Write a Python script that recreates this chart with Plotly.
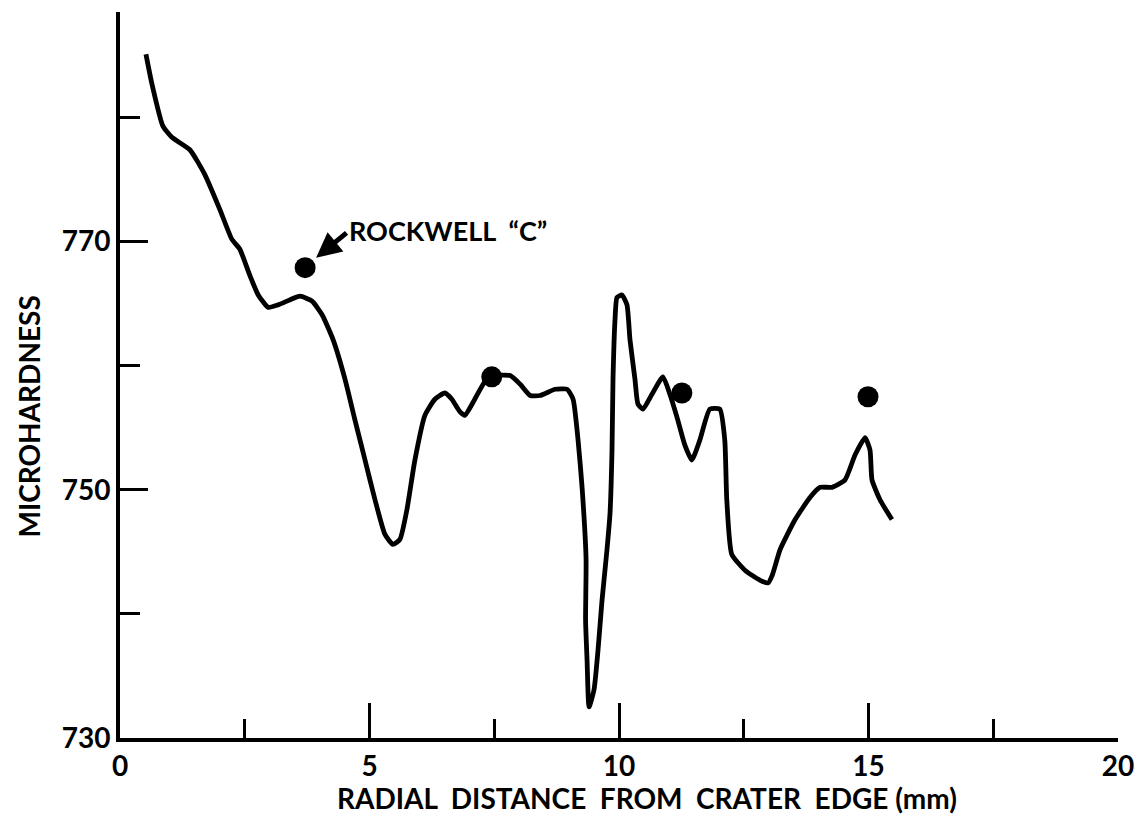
import plotly.graph_objects as go

# Microhardness profile (traced curve)
x_curve = [0.52, 0.64, 0.86, 1.04, 1.40, 1.70, 2.00, 2.24, 2.40, 2.60, 2.77, 2.97, 3.17, 3.40, 3.61,
           3.85, 4.05, 4.27, 4.51, 4.71, 4.91, 5.11, 5.31, 5.47, 5.61, 5.75, 5.91, 6.11, 6.31, 6.51,
           6.65, 6.81, 6.91, 7.11, 7.31, 7.52, 7.82, 8.02, 8.22, 8.42, 8.72, 8.96, 9.08, 9.18, 9.26,
           9.34, 9.33, 9.36, 9.40, 9.50, 9.58, 9.66, 9.76, 9.82, 9.86, 9.88, 9.92, 9.96, 10.06, 10.16,
           10.22, 10.32, 10.38, 10.48, 10.66, 10.88, 11.02, 11.18, 11.32, 11.46, 11.62, 11.82, 12.02,
           12.12, 12.16, 12.26, 12.53, 12.83, 12.99, 13.07, 13.23, 13.53, 13.83, 14.03, 14.27, 14.53,
           14.73, 14.93, 15.03, 15.07, 15.23, 15.47]
y_curve = [785.1, 782.7, 779.3, 778.4, 777.4, 775.4, 772.6, 770.2, 769.4, 767.3, 765.7, 764.7, 764.9,
           765.3, 765.6, 765.2, 764.1, 762.1, 758.9, 755.6, 752.4, 749.2, 746.4, 745.6, 746.0, 748.4,
           752.4, 756.0, 757.3, 757.8, 757.3, 756.3, 756.0, 757.3, 758.7, 759.2, 759.2, 758.5, 757.6,
           757.6, 758.1, 758.1, 757.3, 754.0, 750.2, 744.4, 739.5, 736.3, 732.5, 733.9, 737.1, 741.1,
           745.2, 748.1, 753.2, 758.9, 763.7, 765.5, 765.7, 764.9, 762.1, 758.9, 756.9, 756.5, 757.7,
           759.1, 757.7, 755.6, 753.6, 752.4, 754.0, 756.5, 756.5, 754.0, 749.2, 744.8, 743.5, 742.7,
           742.5, 743.1, 745.2, 747.6, 749.4, 750.2, 750.2, 750.8, 752.8, 754.2, 753.2, 750.8, 749.2,
           747.6]

# Rockwell "C" points
x_rockwell = [3.71, 7.45, 11.26, 14.99]
y_rockwell = [767.9, 759.1, 757.8, 757.5]

x_ticks = [0, 5, 10, 15, 20]
y_ticks = [730, 750, 770]

FONT = "Lato"

fig = go.Figure()
fig.add_trace(go.Scatter(x=x_curve, y=y_curve, mode="lines",
                         line=dict(color="black", width=4.8, shape="spline", smoothing=0.5),
                         showlegend=False, hoverinfo="skip"))
fig.add_trace(go.Scatter(x=x_rockwell, y=y_rockwell, mode="markers",
                         marker=dict(color="black", size=21),
                         showlegend=False))

# arrow
fig.add_annotation(x=3.93, y=768.7, ax=4.57, ay=770.8, xref="x", yref="y", axref="x", ayref="y",
                   text="", showarrow=True, arrowhead=2, arrowsize=1, arrowwidth=5, arrowcolor="black")
fig.add_annotation(x=4.55, y=770.9, xref="x", yref="y", text="ROCKWELL  \u201cC\u201d",
                   showarrow=False, xanchor="left", yanchor="middle",
                   font=dict(family=FONT, size=27, color="black", weight=700))

# axis titles (placed as in the original, slightly off-centre)
fig.add_annotation(x=0.528, y=-0.083, xref="paper", yref="paper",
                   text="RADIAL  DISTANCE  FROM  CRATER  EDGE (mm)", showarrow=False,
                   xanchor="center", yanchor="middle",
                   font=dict(family=FONT, size=28, color="black", weight=700))
fig.add_annotation(x=-0.091, y=0.443, xref="paper", yref="paper",
                   text="MICROHARDNESS", showarrow=False, textangle=-90,
                   xanchor="center", yanchor="middle",
                   font=dict(family=FONT, size=28, color="black", weight=700))

axis_common = dict(showline=True, linecolor="black", linewidth=4, showgrid=False, zeroline=False,
                   ticks="inside", tickcolor="black", tickwidth=3, automargin=False,
                   tickfont=dict(family=FONT, size=28, color="black", weight=700))

fig.update_xaxes(range=[0, 20], tickvals=x_ticks, ticktext=[str(v) for v in x_ticks], ticklen=35,
                 minor=dict(ticks="inside", ticklen=19, tickwidth=3, tickcolor="black", dtick=2.5, tick0=0),
                 **axis_common)
fig.update_yaxes(range=[730, 788.5], tickvals=y_ticks, ticktext=[str(v) for v in y_ticks], ticklen=28,
                 minor=dict(ticks="inside", ticklen=20, tickwidth=3, tickcolor="black", dtick=10, tick0=730),
                 **axis_common)

# page body has an 8px margin; size the figure to fit inside the window
fig.update_layout(width=1132, height=819, plot_bgcolor="white", paper_bgcolor="white",
                  margin=dict(l=112, r=22, t=4, b=89))

fig.write_html("out.html")
